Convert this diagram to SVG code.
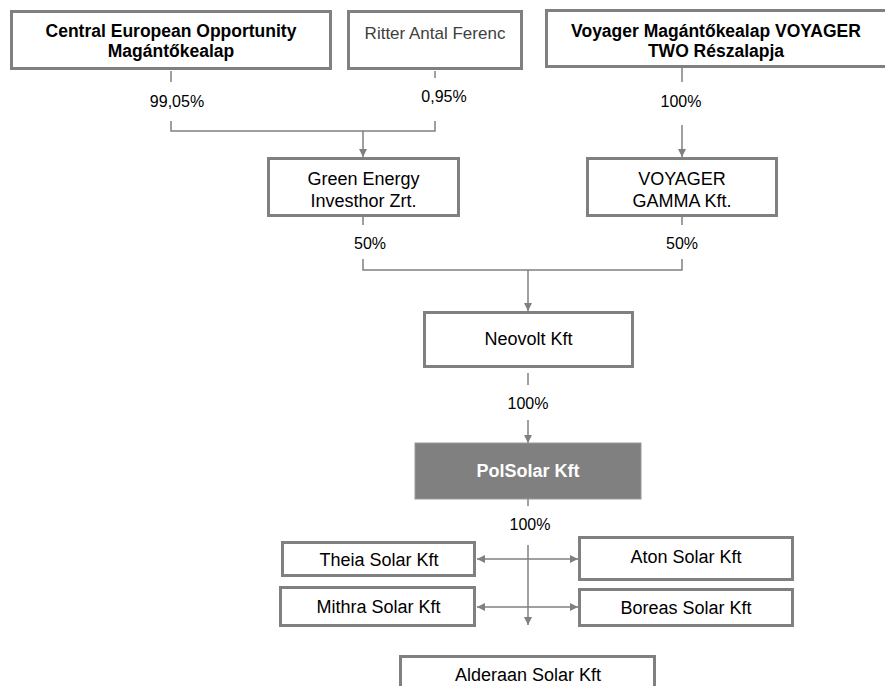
<svg xmlns="http://www.w3.org/2000/svg" width="885" height="686" viewBox="0 0 885 686">
<style>
.box{fill:#fff;stroke:#808080;stroke-width:3}
.t{font-family:"Liberation Sans",Arial,sans-serif;font-size:18px;fill:#000;text-anchor:middle}
.b{font-weight:bold;font-size:17.5px}
.g{fill:#404040;font-size:17px}
.w{fill:#fff;font-weight:bold}
.p{font-family:"Liberation Sans",Arial,sans-serif;font-size:16px;fill:#000;text-anchor:middle}
.c{fill:none;stroke:#808080;stroke-width:1.5}
</style>
<defs>
<marker id="ah" viewBox="0 0 10 10" refX="10" refY="5" markerWidth="8" markerHeight="8" markerUnits="userSpaceOnUse" orient="auto-start-reverse">
<path d="M0,0 L10,5 L0,10 z" fill="#808080"/>
</marker>
</defs>
<rect width="885" height="686" fill="#fff"/>
<g id="connectors">
<path class="c" d="M171,71 V82"/>
<path class="c" d="M171,121 V131 H435 V121"/>
<path class="c" d="M435,71 V78"/>
<path class="c" d="M363,131 V157" marker-end="url(#ah)"/>
<path class="c" d="M682,68 V82"/>
<path class="c" d="M682,125 V157" marker-end="url(#ah)"/>
<path class="c" d="M363,217 V225"/>
<path class="c" d="M682,217 V225"/>
<path class="c" d="M363,259 V270 H682 V259"/>
<path class="c" d="M528,270 V311" marker-end="url(#ah)"/>
<path class="c" d="M528,373 V385"/>
<path class="c" d="M528,420 V443" marker-end="url(#ah)"/>
<path class="c" d="M528,499 V506"/>
<path class="c" d="M528,545 V625" marker-end="url(#ah)"/>
<path class="c" d="M477,559 H578" marker-start="url(#ah)" marker-end="url(#ah)"/>
<path class="c" d="M477,607 H578" marker-start="url(#ah)" marker-end="url(#ah)"/>
<text class="p" x="177" y="107">99,05%</text>
<text class="p" x="444" y="102">0,95%</text>
<text class="p" x="681" y="107">100%</text>
<text class="p" x="370" y="249">50%</text>
<text class="p" x="682" y="249">50%</text>
<text class="p" x="528" y="409">100%</text>
<text class="p" x="530" y="530">100%</text>
</g>
<g id="ceo">
<rect class="box" x="11.5" y="11.5" width="319" height="57"/>
<text class="t b" x="171" y="37">Central European Opportunity</text>
<text class="t b" x="171" y="57">Magántőkealap</text>
</g>
<g id="ritter">
<rect class="box" x="348.5" y="11.5" width="173" height="57"/>
<text class="t g" x="435" y="39">Ritter Antal Ferenc</text>
</g>
<g id="voyager">
<rect class="box" x="546.5" y="10.5" width="340" height="56"/>
<text class="t b" x="716" y="37">Voyager Magántőkealap VOYAGER</text>
<text class="t b" x="716" y="57">TWO Részalapja</text>
</g>
<g id="green">
<rect class="box" x="268.5" y="158.5" width="190" height="57"/>
<text class="t" x="363.5" y="185">Green Energy</text>
<text class="t" x="363.5" y="207">Investhor Zrt.</text>
</g>
<g id="gamma">
<rect class="box" x="587.5" y="158.5" width="189" height="57"/>
<text class="t" x="682" y="185">VOYAGER</text>
<text class="t" x="682" y="207">GAMMA Kft.</text>
</g>
<g id="neovolt">
<rect class="box" x="424.5" y="312.5" width="208" height="54"/>
<text class="t" x="528.5" y="345">Neovolt Kft</text>
</g>
<g id="polsolar">
<rect x="415" y="443" width="226" height="56" fill="#808080" stroke="#999" stroke-width="1"/>
<text class="t w" x="528" y="477">PolSolar Kft</text>
</g>
<g id="theia">
<rect class="box" x="282.5" y="542.5" width="192" height="33"/>
<text class="t" x="379" y="566">Theia Solar Kft</text>
</g>
<g id="aton">
<rect class="box" x="579.5" y="537.5" width="213" height="42"/>
<text class="t" x="686" y="563">Aton Solar Kft</text>
</g>
<g id="mithra">
<rect class="box" x="280.5" y="587.5" width="194" height="38"/>
<text class="t" x="378.5" y="613">Mithra Solar Kft</text>
</g>
<g id="boreas">
<rect class="box" x="579.5" y="589.5" width="213" height="36"/>
<text class="t" x="686" y="614">Boreas Solar Kft</text>
</g>
<g id="alderaan">
<rect class="box" x="400.5" y="656.5" width="254" height="50"/>
<text class="t" x="528" y="681">Alderaan Solar Kft</text>
</g>
</svg>
